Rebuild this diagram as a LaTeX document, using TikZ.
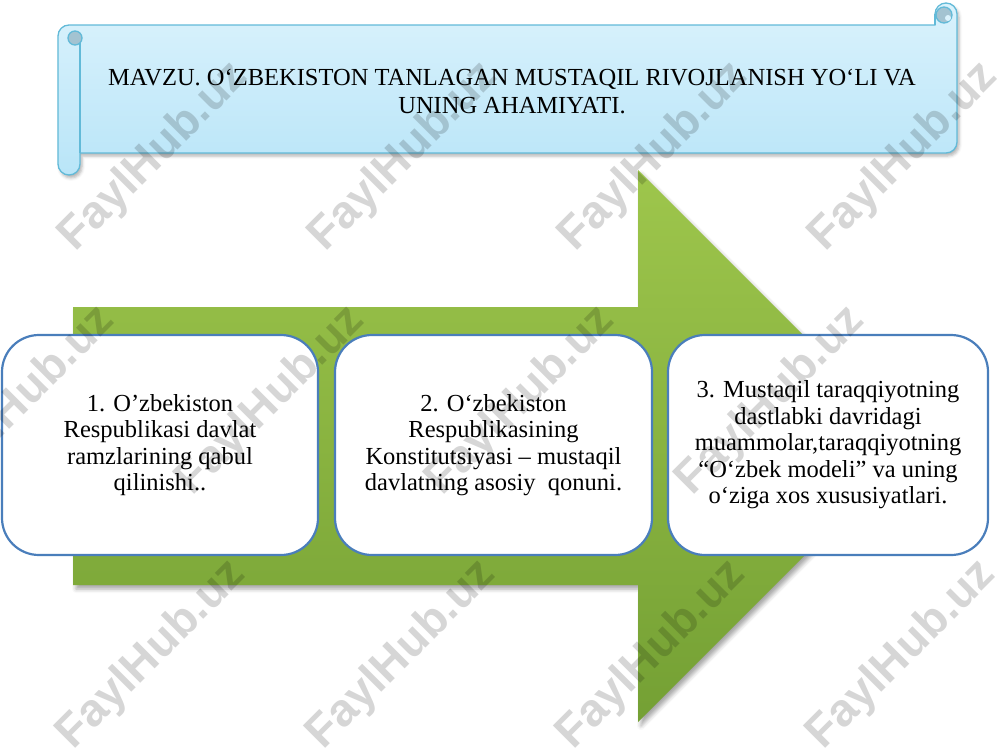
\documentclass[tikz,border=0pt]{standalone}
\usepackage{fontspec}
\setmainfont{Liberation Serif}
\newfontfamily\wmfont{Liberation Sans}
\usetikzlibrary{shadows.blur}
\definecolor{boxblue}{HTML}{4A7EBB}
\definecolor{scrollborder}{HTML}{62BAD8}
\definecolor{scrolltop}{HTML}{DAF2FC}
\definecolor{scrollbot}{HTML}{B9E5F8}
\definecolor{curl}{HTML}{A3C3D1}
\definecolor{greentop}{HTML}{9EC64C}
\definecolor{greenbot}{HTML}{74A034}
\tikzset{
  stagebox/.style={draw=boxblue, line width=2.2pt, fill=white, rounded corners=37pt,
    align=center, inner sep=0pt, font=\fontsize{24.5}{26.5}\selectfont},
  titletext/.style={align=center, inner sep=0pt, font=\fontsize{24.5}{28}\selectfont},
  wm/.style={font=\wmfont\bfseries\fontsize{46}{46}\selectfont, rotate=45,
    text=black, text opacity=0.16, inner sep=0pt},
  scrollline/.style={draw=scrollborder, line width=1.3pt}
}
\begin{document}
\begin{tikzpicture}[x=1pt,y=-1pt]
\useasboundingbox (0,0) rectangle (1000,750);

% ---- scroll banner ----
\path[scrollline, top color=scrolltop, bottom color=scrollbot,
  blur shadow={shadow xshift=2pt, shadow yshift=-3pt, shadow blur radius=3pt, shadow opacity=30}]
  (58,36) arc[start angle=180, end angle=270, radius=11]
  -- (935,25) -- (935,14) arc[start angle=180, end angle=360, radius=11]
  -- (957,142) arc[start angle=0, end angle=90, radius=11]
  -- (80,153) -- (80,164) arc[start angle=0, end angle=180, radius=11]
  -- cycle;
% left roll details
\draw[scrollline] (80,38) -- (80,153);
\path[scrollline, fill=curl] (75,38) circle[radius=7];
% right roll details
\path[scrollline, fill=curl] (944,15) circle[radius=8];
\path[fill=scrolltop] (948,18) circle[radius=3];
\draw[scrollline] (935,14) -- (935,25);

\node[titletext] (title) at (512,91.5)
  {MAVZU. O‘ZBEKISTON TANLAGAN MUSTAQIL RIVOJLANISH YO‘LI VA\\UNING AHAMIYATI.};

% ---- green arrow ----
\path[top color=greentop, bottom color=greenbot,
  blur shadow={shadow xshift=3pt, shadow yshift=-4pt, shadow blur radius=4pt, shadow opacity=35}]
  (73,307) -- (638,307) -- (638,170) -- (914,446) -- (638,722) -- (638,585) -- (73,585) -- cycle;

% ---- boxes ----
\node[stagebox, minimum width=316pt, minimum height=220pt] (b1) at (160,445)
  {1. O’zbekiston\\Respublikasi davlat\\ramzlarining qabul\\qilinishi..};
\node[stagebox, minimum width=317pt, minimum height=220pt] (b2) at (493.5,445)
  {2. O‘zbekiston\\Respublikasining\\Konstitutsiyasi – mustaqil\\davlatning asosiy\ \ qonuni.};
\node[stagebox, minimum width=320pt, minimum height=220pt] (b3) at (828,445)
  {3. Mustaqil taraqqiyotning\\dastlabki davridagi\\muammolar,taraqqiyotning\\“O‘zbek modeli” va uning\\o‘ziga xos xususiyatlari.};

% ---- watermarks ----
\node[wm] (w1) at (154,157) {FaylHub.uz};
\node[wm] (w2) at (404,157) {FaylHub.uz};
\node[wm] (w3) at (654,157) {FaylHub.uz};
\node[wm] (w4) at (904,157) {FaylHub.uz};
\node[wm] (w5) at (21,401) {FaylHub.uz};
\node[wm] (w6) at (271,401) {FaylHub.uz};
\node[wm] (w7) at (521,401) {FaylHub.uz};
\node[wm] (w8) at (771,401) {FaylHub.uz};
\node[wm] (w9) at (152,655) {FaylHub.uz};
\node[wm] (w10) at (402,655) {FaylHub.uz};
\node[wm] (w11) at (652,655) {FaylHub.uz};
\node[wm] (w12) at (902,655) {FaylHub.uz};
\end{tikzpicture}
\end{document}
